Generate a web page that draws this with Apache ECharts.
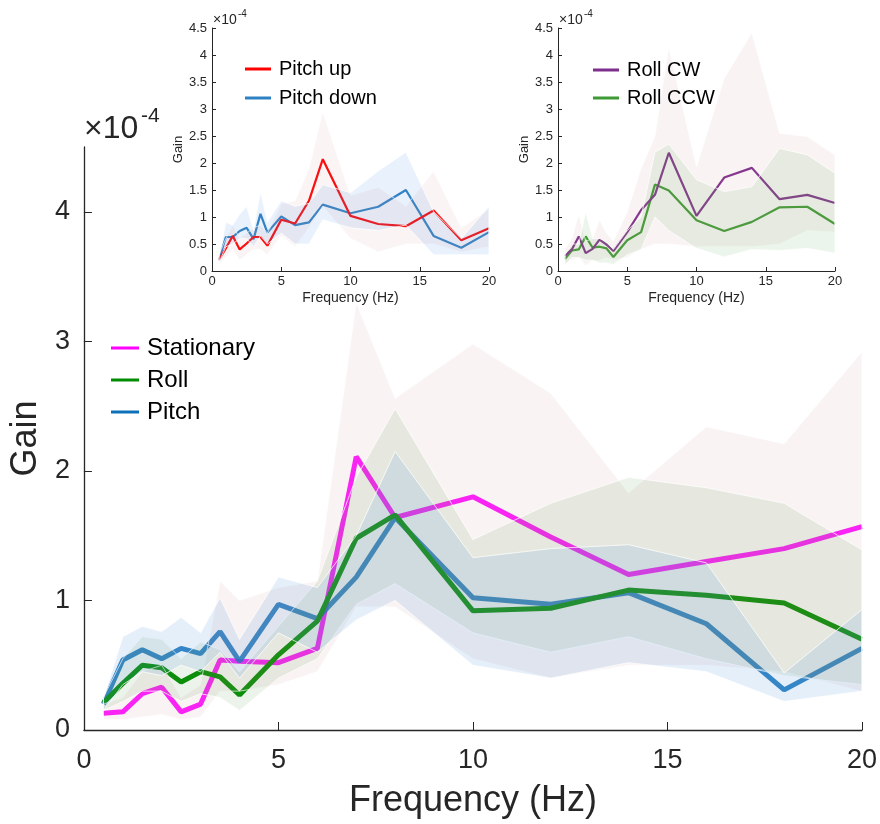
<!DOCTYPE html>
<html>
<head>
<meta charset="utf-8">
<script src="https://cdn.jsdelivr.net/npm/echarts@6/dist/echarts.min.js"></script>
<style>
  html, body { margin: 0; padding: 0; background: #fff; }
  #chart { width: 880px; height: 824px; }
</style>
</head>
<body>
<div id="chart"></div>
<script>
// frequencies shared by every panel
var freq = [0.5, 1, 1.5, 2, 2.5, 3, 3.5, 4, 5, 6, 7, 8, 10, 12, 14, 16, 18, 20];

// main panel (gain x 1e-4)
var stationary = [0.13, 0.14, 0.28, 0.33, 0.14, 0.20, 0.54, 0.53, 0.52, 0.63, 2.11, 1.64, 1.80, 1.49, 1.20, 1.30, 1.40, 1.57];
var roll       = [0.21, 0.36, 0.50, 0.48, 0.37, 0.45, 0.41, 0.27, 0.58, 0.84, 1.48, 1.66, 0.92, 0.94, 1.08, 1.04, 0.98, 0.70];
var pitch      = [0.20, 0.54, 0.62, 0.55, 0.63, 0.59, 0.76, 0.53, 0.97, 0.86, 1.18, 1.64, 1.02, 0.97, 1.06, 0.82, 0.31, 0.63];
var statLo  = [0.08, 0.08, 0.10, 0.12, 0.08, 0.10, 0.30, 0.30, 0.35, 0.45, 0.95, 0.95, 0.55, 0.40, 0.50, 0.50, 0.45, 0.30];
var statHi  = [0.20, 0.25, 0.45, 0.50, 0.25, 0.35, 1.15, 1.00, 1.10, 1.15, 3.30, 2.56, 2.98, 2.60, 1.83, 2.34, 2.21, 2.92];
var rollLo  = [0.15, 0.22, 0.30, 0.30, 0.22, 0.28, 0.25, 0.15, 0.40, 0.55, 0.97, 1.13, 0.75, 0.60, 0.72, 0.55, 0.42, 0.35];
var rollHi  = [0.25, 0.55, 0.72, 0.70, 0.55, 0.68, 0.62, 0.45, 0.80, 1.15, 1.95, 2.48, 1.47, 1.75, 1.95, 1.87, 1.75, 1.39];
var pitchLo = [0.15, 0.35, 0.45, 0.42, 0.50, 0.45, 0.60, 0.40, 0.75, 0.60, 0.85, 1.00, 0.50, 0.40, 0.52, 0.45, 0.22, 0.30];
var pitchHi = [0.24, 0.72, 0.80, 0.76, 0.87, 0.75, 1.02, 0.70, 1.18, 1.10, 1.50, 2.15, 1.33, 1.40, 1.43, 1.29, 0.44, 0.93];

// inset 1: pitch up / pitch down
var pitchUp   = [0.21, 0.42, 0.65, 0.40, 0.51, 0.63, 0.63, 0.47, 0.95, 0.88, 1.30, 2.07, 1.02, 0.87, 0.83, 1.12, 0.57, 0.79];
var pitchDown = [0.20, 0.63, 0.63, 0.74, 0.80, 0.59, 1.06, 0.71, 1.01, 0.85, 0.90, 1.23, 1.07, 1.19, 1.50, 0.65, 0.43, 0.72];
var upLo   = [0.12, 0.25, 0.40, 0.20, 0.30, 0.40, 0.40, 0.30, 0.65, 0.45, 0.80, 1.20, 0.60, 0.35, 0.50, 0.50, 0.35, 0.45];
var upHi   = [0.30, 0.60, 0.85, 0.60, 0.70, 0.80, 0.85, 0.70, 1.25, 1.30, 1.90, 2.95, 1.40, 1.55, 1.20, 1.85, 0.80, 1.15];
var downLo = [0.15, 0.45, 0.50, 0.60, 0.60, 0.45, 0.65, 0.50, 0.70, 0.50, 0.50, 0.95, 0.80, 0.75, 0.85, 0.30, 0.30, 0.30];
var downHi = [0.25, 0.90, 0.85, 1.05, 1.20, 0.75, 1.47, 0.90, 1.30, 1.20, 1.25, 1.60, 1.45, 1.85, 2.20, 1.10, 0.60, 1.20];

// inset 2: roll CW / roll CCW
var rollCW  = [0.28, 0.40, 0.64, 0.33, 0.41, 0.58, 0.49, 0.37, 0.72, 1.13, 1.41, 2.19, 1.02, 1.73, 1.91, 1.33, 1.41, 1.26];
var rollCCW = [0.22, 0.38, 0.40, 0.64, 0.43, 0.45, 0.42, 0.26, 0.57, 0.72, 1.60, 1.49, 0.94, 0.74, 0.91, 1.18, 1.19, 0.87];
var cwLo  = [0.15, 0.20, 0.25, 0.10, 0.20, 0.20, 0.25, 0.20, 0.25, 0.40, 0.50, 0.50, 0.45, 0.45, 0.45, 0.50, 0.75, 0.72];
var cwHi  = [0.40, 0.60, 1.05, 0.55, 0.60, 0.95, 0.70, 0.55, 1.10, 1.90, 2.50, 4.15, 1.93, 3.57, 4.41, 2.55, 2.49, 2.15];
var ccwLo = [0.10, 0.25, 0.25, 0.20, 0.20, 0.15, 0.15, 0.12, 0.30, 0.40, 1.00, 0.75, 0.42, 0.26, 0.40, 0.38, 0.42, 0.33];
var ccwHi = [0.30, 0.50, 0.50, 1.10, 0.60, 0.60, 0.55, 0.40, 0.75, 1.00, 2.20, 2.35, 1.69, 1.47, 1.56, 2.27, 2.15, 1.81];

var mainTicks = [0, 1, 2, 3, 4];
var font = 'Liberation Sans, Arial, Helvetica, sans-serif';
var ink = '#262626';

function pairs(ys) {
  return freq.map(function (f, i) { return [f, ys[i]]; });
}

function lineSeries(name, gi, ys, color, width, opacity) {
  return {
    name: name, type: 'line', xAxisIndex: gi, yAxisIndex: gi,
    data: pairs(ys), showSymbol: false, symbol: 'none', z: 2,
    itemStyle: { color: color },
    lineStyle: { color: color, width: width, opacity: opacity }
  };
}

// shaded spread drawn as one polygon through the axis scales
function bandSeries(gi, lo, hi, fill) {
  return {
    type: 'custom', xAxisIndex: gi, yAxisIndex: gi, silent: true, z: 3,
    data: freq.map(function (f, i) { return [f, lo[i], hi[i]]; }),
    encode: { x: 0, y: [1, 2] },
    renderItem: function (params, api) {
      if (params.dataIndex !== 0) return null;
      var pts = [];
      for (var i = 0; i < freq.length; i++) pts.push(api.coord([freq[i], hi[i]]));
      for (var j = freq.length - 1; j >= 0; j--) pts.push(api.coord([freq[j], lo[j]]));
      return {
        type: 'polygon', shape: { points: pts },
        style: { fill: fill, stroke: 'rgba(255,255,255,0.75)', lineWidth: 1 }
      };
    }
  };
}

function xAxisFor(gi, big) {
  return {
    gridIndex: gi, type: 'value', min: 0, max: 20, interval: 5,
    splitLine: { show: false },
    axisLine: { show: true, onZero: false, lineStyle: { color: ink, width: big ? 1.3 : 1 } },
    axisTick: { show: true, inside: true, length: big ? 8 : 4, lineStyle: { color: ink } },
    axisLabel: { fontSize: big ? 27 : 13, color: ink, fontFamily: font, margin: big ? 17 : 4 },
    name: 'Frequency (Hz)', nameLocation: 'middle', nameGap: big ? 53 : 20,
    nameTextStyle: { fontSize: big ? 36 : 14, color: ink, fontFamily: font }
  };
}

function yAxisFor(gi, big) {
  var ax = {
    gridIndex: gi, type: 'value', min: 0, max: 4.5, interval: big ? 1 : 0.5,
    splitLine: { show: false },
    axisLine: { show: true, onZero: false, lineStyle: { color: ink, width: big ? 1.3 : 1 } },
    axisTick: { show: true, inside: true, length: big ? 8 : 4, lineStyle: { color: ink } },
    axisLabel: { fontSize: big ? 27 : 13, color: ink, fontFamily: font, margin: big ? 14 : 5 },
    name: 'Gain', nameLocation: 'middle', nameRotate: 90, nameGap: big ? 36 : 24,
    nameTextStyle: { fontSize: big ? 36 : 13, color: ink, fontFamily: font }
  };
  if (big) {
    ax.axisTick.customValues = mainTicks;
    ax.axisLabel.customValues = mainTicks;
  }
  return ax;
}

function legendFor(names, left, top, size, gap, iw) {
  return {
    data: names, orient: 'vertical', left: left, top: top,
    icon: 'rect', itemWidth: iw, itemHeight: 3, itemGap: gap,
    selectedMode: false, padding: 0,
    textStyle: { fontSize: size, lineHeight: size, color: '#000', fontFamily: font, padding: [0, 0, 0, 3] }
  };
}

var chart = echarts.init(document.getElementById('chart'), null, { renderer: 'canvas' });

var option = {
  backgroundColor: '#fff',
  animation: false,
  grid: [
    { left: 82, top: 147, width: 780, height: 583 },
    { left: 212, top: 28, width: 277, height: 243 },
    { left: 558, top: 28, width: 277, height: 243 }
  ],
  xAxis: [xAxisFor(0, true), xAxisFor(1, false), xAxisFor(2, false)],
  yAxis: [yAxisFor(0, true), yAxisFor(1, false), yAxisFor(2, false)],
  legend: [
    legendFor(['Stationary', 'Roll', 'Pitch'], 111, 336, 24, 8, 28),
    legendFor(['Pitch up', 'Pitch down'], 245, 59, 20, 9, 26),
    legendFor(['Roll CW', 'Roll CCW'], 593, 60, 20, 8, 26)
  ],
  series: [
    lineSeries('Stationary', 0, stationary, '#ff00ff', 5, 0.9),
    lineSeries('Pitch', 0, pitch, '#0d6fb8', 5, 0.85),
    lineSeries('Roll', 0, roll, '#008c00', 5, 1),
    bandSeries(0, statLo, statHi, 'rgba(200,140,140,0.10)'),
    bandSeries(0, rollLo, rollHi, 'rgba(100,160,80,0.12)'),
    bandSeries(0, pitchLo, pitchHi, 'rgba(80,150,220,0.15)'),

    lineSeries('Pitch down', 1, pitchDown, '#2f80c2', 2.2, 1),
    lineSeries('Pitch up', 1, pitchUp, '#ff0000', 2.2, 1),
    bandSeries(1, upLo, upHi, 'rgba(220,150,150,0.10)'),
    bandSeries(1, downLo, downHi, 'rgba(80,150,230,0.13)'),

    lineSeries('Roll CCW', 2, rollCCW, '#3d9a34', 2.2, 1),
    lineSeries('Roll CW', 2, rollCW, '#7e2f8e', 2.2, 1),
    bandSeries(2, cwLo, cwHi, 'rgba(200,140,140,0.10)'),
    bandSeries(2, ccwLo, ccwHi, 'rgba(100,170,90,0.12)')
  ],
  graphic: [
    { type: 'text', left: 84, top: 113, style: { text: '\u00d710', fontSize: 32, fill: ink, fontFamily: font } },
    { type: 'text', left: 141, top: 106, style: { text: '-4', fontSize: 21, fill: ink, fontFamily: font } },
    { type: 'text', left: 213, top: 13, style: { text: '\u00d710', fontSize: 14, fill: ink, fontFamily: font } },
    { type: 'text', left: 238, top: 9, style: { text: '-4', fontSize: 10, fill: ink, fontFamily: font } },
    { type: 'text', left: 559, top: 13, style: { text: '\u00d710', fontSize: 14, fill: ink, fontFamily: font } },
    { type: 'text', left: 584, top: 9, style: { text: '-4', fontSize: 10, fill: ink, fontFamily: font } }
  ]
};

option && chart.setOption(option);
</script>
</body>
</html>
